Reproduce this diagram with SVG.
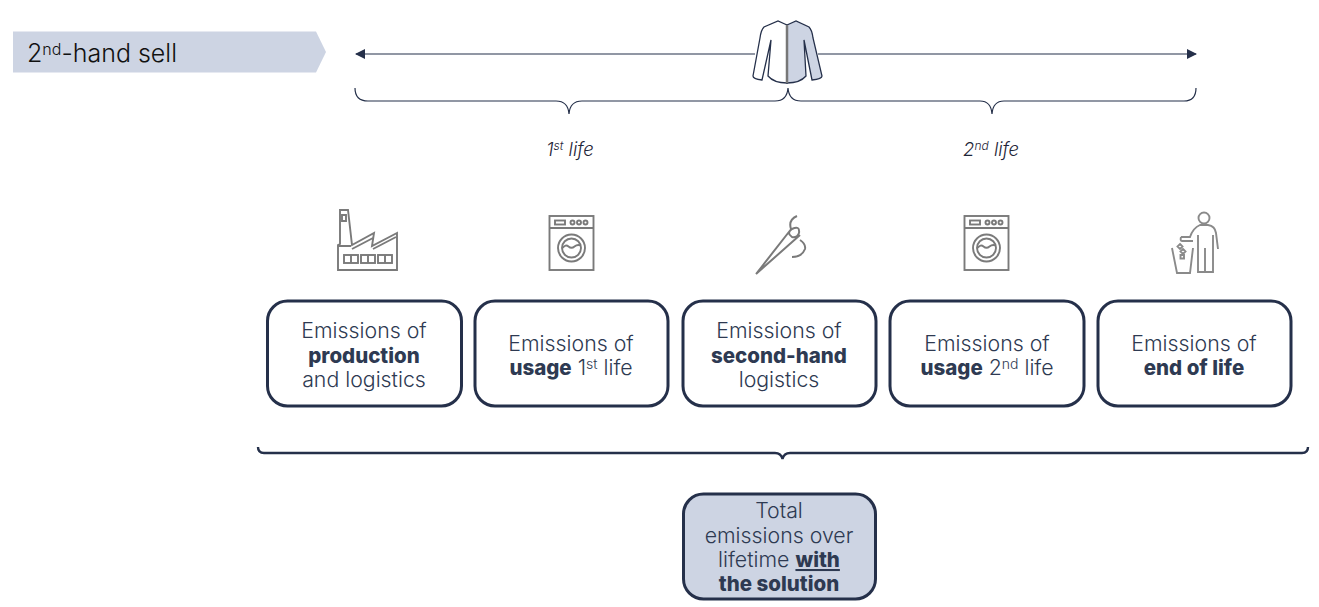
<svg xmlns="http://www.w3.org/2000/svg" width="1319" height="607" viewBox="0 0 1319 607">
<style>
text{font-family:Inter,"Liberation Sans",sans-serif;fill:#2e3a52;font-weight:300;font-size:21.300px;text-anchor:middle}
.b{font-weight:800;font-size:20.500px}
.box{fill:#fff;stroke:#25304a;stroke-width:3}
.ln{fill:none;stroke:#25304a;stroke-width:1.200}
.ic{fill:none;stroke:#7a7a7a;stroke-width:1.900}
.it{font-style:italic;font-size:18.500px;fill:#1f2638}
</style>
<defs>
<marker id="ah" viewBox="0 0 10 10" refX="9" refY="5" markerWidth="10" markerHeight="10" markerUnits="userSpaceOnUse" orient="auto-start-reverse"><path d="M0 0L10 5L0 10Z" fill="#25304a"/></marker>
<g id="washer"><rect x="0" y="0" width="44" height="54" class="ic"/><path d="M0 12H44" class="ic"/><rect x="5.500" y="4.500" width="10" height="4" class="ic"/><circle cx="23" cy="6.500" r="2" class="ic"/><circle cx="29.500" cy="6.500" r="2" class="ic"/><circle cx="36" cy="6.500" r="2" class="ic"/><circle cx="22" cy="32" r="13.500" class="ic"/><circle cx="22" cy="32" r="9.500" class="ic"/><path d="M13 32q3-4 6-1.500t6 0 6-1" class="ic"/></g>
</defs>
<g id="connectors">
<path class="ln" d="M356 54H755" marker-start="url(#ah)"/>
<path class="ln" d="M818 54H1196" marker-end="url(#ah)"/>
<path class="ln" d="M355 88q0 13 13 13H556q12 0 13 13q1-13 13-13H775q12 0 13-13q1 13 13 13H980q11 0 12 13q1-13 12-13H1184q12 0 12-13"/>
<path d="M258 447q0 6 6 6H775q6 0 7.500 6q1.500-6 7.500-6H1302q6 0 6-6" fill="none" stroke="#25304a" stroke-width="2.400"/>
</g>
<g id="banner"><path d="M13 31.500H316L326 52L316 72.500H13Z" fill="#cdd4e3"/>
<text x="27" y="62" style="font-size:25px;text-anchor:start;fill:#111">2<tspan dy="-7" font-size="16">nd</tspan><tspan dy="7">-hand sell</tspan></text></g>
<g id="jacket">
<path d="M787 25L778 21L764 27Q761 30 760 38L753 76Q753 79 762 80L771 40L768 76Q774 83 787 83Z" fill="#fff" stroke="#25304a" stroke-width="1.300"/>
<path d="M787 25L796 21L809 27Q812 30 813 38L822 76Q822 79 812 80L804 40L806 76Q800 83 787 83Z" fill="#cdd4e3" stroke="#25304a" stroke-width="1.300"/>
<path d="M787 25V83" stroke="#777" stroke-width="2.500"/>
</g>
<text class="it" x="570" y="156">1<tspan dy="-6" font-size="12">st</tspan><tspan dy="6"> life</tspan></text>
<text class="it" x="991" y="156">2<tspan dy="-6" font-size="12">nd</tspan><tspan dy="6"> life</tspan></text>
<g id="icon-factory" class="ic"><path d="M340 210h8l4 35 22-12-2 13 25-13v37h-59v-25l2-1z"/><path d="M342 215h4v6h-4zM338 246h13"/><rect x="344" y="255" width="14" height="8"/><rect x="361" y="255" width="14" height="8"/><rect x="378" y="255" width="14" height="8"/><path d="M351 255v8M368 255v8M385 255v8M352 249l21-11M373 249l23-12"/></g>
<g id="icon-washer-1"><use href="#washer" x="549.500" y="216"/></g>
<g id="icon-needle" class="ic"><path d="M756 274L792 228M756 274L800 235M792 229q8-4 7 4q-2 5-7 4q-6-4 0-8zM797 216q-9 4-6 13M800 240q6 4 5 9q-3 8-13 8" stroke-width="2"/></g>
<g id="icon-washer-2"><use href="#washer" x="964.500" y="216"/></g>
<g id="icon-person" class="ic" style="stroke:#8a8a8a"><circle cx="1204" cy="218" r="5.500"/><path d="M1181 237h9q3-9 10-12h8q7 1 8 8l2 16M1181 237q-1 4 1 4h11M1198 235v37h15v-37M1205 248v24M1172 248l5 25h13l3-25M1180 244l2.500 2.500-2.500 2.500-2.500-2.500zM1183 249l2.500 2.500-2.500 2.500-2.500-2.500zM1180.500 255h3.500v3.500h-3.500z"/></g>
<g id="node1"><rect class="box" x="267.500" y="301" width="194" height="105" rx="20"/><text x="364" y="338">Emissions of</text><text x="364" y="363" class="b">production</text><text x="364" y="387">and logistics</text></g>
<g id="node2"><rect class="box" x="475" y="301" width="193" height="105" rx="20"/><text x="571" y="351">Emissions of</text><text x="571" y="375"><tspan class="b">usage</tspan> 1<tspan dy="-6" font-size="14">st</tspan><tspan dy="6"> life</tspan></text></g>
<g id="node3"><rect class="box" x="683" y="301" width="193" height="105" rx="20"/><text x="779" y="338">Emissions of</text><text x="779" y="363" class="b">second-hand</text><text x="779" y="387">logistics</text></g>
<g id="node4"><rect class="box" x="890" y="301" width="194" height="105" rx="20"/><text x="987" y="351">Emissions of</text><text x="987" y="375"><tspan class="b">usage</tspan> 2<tspan dy="-6" font-size="14">nd</tspan><tspan dy="6"> life</tspan></text></g>
<g id="node5"><rect class="box" x="1098" y="301" width="193" height="105" rx="20"/><text x="1194" y="351">Emissions of</text><text x="1194" y="375" class="b">end of life</text></g>
<g id="total"><rect class="box" x="683.500" y="494" width="192" height="105" rx="20" style="fill:#cdd4e3"/><text x="779" y="518">Total</text><text x="779" y="543">emissions over</text><text x="779" y="567">lifetime <tspan class="b" text-decoration="underline">with</tspan></text><text x="779" y="591" class="b">the solution</text></g>
</svg>
